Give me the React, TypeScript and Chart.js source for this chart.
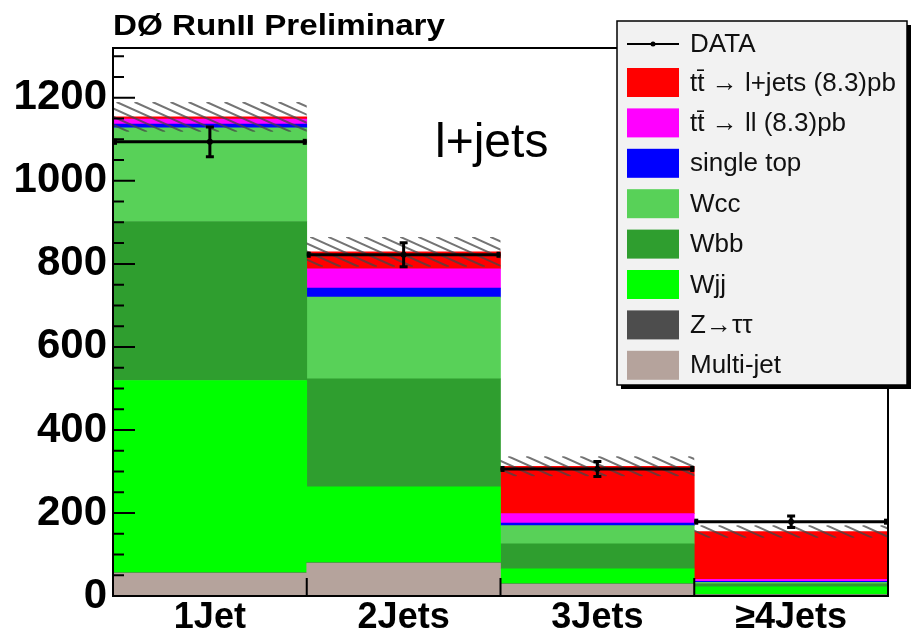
import React, { useEffect, useRef } from 'react';
import { Chart, registerables } from 'chart.js';

Chart.register(...registerables);

// ---------------- data ----------------
const categories = ['1Jet', '2Jets', '3Jets', '\u22654Jets'];
const multiJet = [55, 79, 29, 3];
const zTauTau = [1, 1, 0.5, 0.2];
const wjj = [463, 183, 36, 19];
const wbb = [383, 260, 60, 7];
const wcc = [226, 197, 44, 4];
const singleTop = [9, 22, 6, 2];
const ttDilepton = [12, 46, 23, 5];
const ttLeptonJets = [5, 41, 114, 115];
const dataCounts = [1094, 822, 306, 179];
const dataErrors = [36, 29, 18, 14];
const systUncertainty = [36, 36, 24, 15];
const yMajorTicks = [0, 200, 400, 600, 800, 1000, 1200];
const yMinorStep = 50;
const yMax = 1320;

const seriesLabels = [
  'Multi-jet',
  'Z\u2192\u03c4\u03c4',
  'Wjj',
  'Wbb',
  'Wcc',
  'single top',
  'tt\u0304 \u2192 ll (8.3)pb',
  'tt\u0304 \u2192 l+jets (8.3)pb',
];
const seriesColors = ['#b5a39c', '#4d4d4d', '#00ff00', '#2f9e2f', '#58d158', '#0000ff', '#ff00ff', '#ff0000'];
const seriesValues = [multiJet, zTauTau, wjj, wbb, wcc, singleTop, ttDilepton, ttLeptonJets];

const FONT = '"Liberation Sans", Arial, Helvetica, sans-serif';

const d0Plugin = {
  id: 'd0Overlay',
  afterDatasetsDraw(chart: any) {
    const { ctx, chartArea: ca, scales } = chart;
    const x = scales.x;
    const y = scales.y;
    const half = (x.getPixelForValue(1) - x.getPixelForValue(0)) / 2;
    const totals = categories.map((_, i) =>
      seriesValues.reduce((s, arr) => s + arr[i], 0)
    );

    // hatched uncertainty band
    for (let i = 0; i < categories.length; i++) {
      const xl = x.getPixelForValue(i) - half;
      const xr = x.getPixelForValue(i) + half;
      const yt = y.getPixelForValue(totals[i] + systUncertainty[i]);
      const yb = y.getPixelForValue(totals[i] - systUncertainty[i]);
      ctx.save();
      ctx.beginPath();
      ctx.rect(xl, yt, xr - xl, yb - yt);
      ctx.clip();
      ctx.strokeStyle = 'rgba(70,70,70,0.75)';
      ctx.lineWidth = 2;
      const slope = 0.45;
      const h = yb - yt;
      ctx.beginPath();
      for (let sx = xl - h / slope - 20; sx < xr + 20; sx += 18) {
        ctx.moveTo(sx, yt);
        ctx.lineTo(sx + h / slope, yb);
      }
      ctx.stroke();
      ctx.restore();
    }

    // data points
    ctx.save();
    ctx.strokeStyle = '#000';
    ctx.fillStyle = '#000';
    ctx.lineWidth = 3;
    for (let i = 0; i < categories.length; i++) {
      const xc = x.getPixelForValue(i);
      const xl = xc - half;
      const xr = xc + half;
      const yd = y.getPixelForValue(dataCounts[i]);
      const yh = y.getPixelForValue(dataCounts[i] + dataErrors[i]);
      const yl = y.getPixelForValue(dataCounts[i] - dataErrors[i]);
      ctx.beginPath();
      ctx.moveTo(xl, yd);
      ctx.lineTo(xr, yd);
      ctx.moveTo(xc, yh);
      ctx.lineTo(xc, yl);
      ctx.moveTo(xc - 4, yh);
      ctx.lineTo(xc + 4, yh);
      ctx.moveTo(xc - 4, yl);
      ctx.lineTo(xc + 4, yl);
      ctx.stroke();
      ctx.fillRect(xl, yd - 3, 4, 6);
      ctx.fillRect(xr - 4, yd - 3, 4, 6);
      ctx.beginPath();
      ctx.arc(xc, yd, 3, 0, Math.PI * 2);
      ctx.fill();
    }
    ctx.restore();

    // frame
    ctx.save();
    ctx.strokeStyle = '#000';
    ctx.lineWidth = 2;
    ctx.beginPath();
    ctx.rect(ca.left, ca.top, ca.right - ca.left, ca.bottom - ca.top);
    ctx.stroke();
    // y ticks (inside)
    ctx.beginPath();
    for (let v = 0; v <= yMax; v += yMinorStep) {
      const py = y.getPixelForValue(v);
      const len = yMajorTicks.includes(v) ? 22 : 11;
      ctx.moveTo(ca.left, py);
      ctx.lineTo(ca.left + len, py);
    }
    // x ticks at bin edges
    for (let i = 1; i < categories.length; i++) {
      const px = x.getPixelForValue(i) - half;
      ctx.moveTo(px, ca.bottom);
      ctx.lineTo(px, ca.bottom - 18);
    }
    ctx.stroke();
    ctx.restore();
  },
  afterDraw(chart: any) {
    const { ctx } = chart;
    ctx.save();
    // title (slightly wide face as in the original)
    ctx.fillStyle = '#000';
    ctx.font = `bold 29px ${FONT}`;
    ctx.textAlign = 'left';
    ctx.textBaseline = 'alphabetic';
    const title = 'D\u00d8 RunII Preliminary';
    const tw = ctx.measureText(title).width;
    ctx.save();
    ctx.translate(113, 35);
    ctx.scale(332 / tw, 1);
    ctx.fillText(title, 0, 0);
    ctx.restore();

    // channel label
    ctx.font = `48px ${FONT}`;
    ctx.fillText('l+jets', 435, 157);

    // legend box
    const bx = 617, by = 21, bw = 290, bh = 364;
    ctx.fillStyle = '#000';
    ctx.fillRect(bx + 4, by + 4, bw, bh);
    ctx.fillStyle = '#f2f2f2';
    ctx.fillRect(bx, by, bw, bh);
    ctx.strokeStyle = '#000';
    ctx.lineWidth = 1.5;
    ctx.strokeRect(bx, by, bw, bh);

    ctx.font = `26px ${FONT}`;
    ctx.textBaseline = 'middle';
    // DATA entry
    ctx.strokeStyle = '#000';
    ctx.lineWidth = 2;
    ctx.beginPath();
    ctx.moveTo(627, 44);
    ctx.lineTo(679, 44);
    ctx.stroke();
    ctx.fillStyle = '#000';
    ctx.beginPath();
    ctx.arc(653, 44, 2.5, 0, Math.PI * 2);
    ctx.fill();
    ctx.fillStyle = '#111';
    ctx.fillText('DATA', 690, 45);

    const order = [7, 6, 5, 4, 3, 2, 1, 0];
    order.forEach((k, r) => {
      const cy = 82.5 + r * 40.4;
      ctx.fillStyle = seriesColors[k];
      ctx.fillRect(627, cy - 14.5, 52, 29);
      ctx.fillStyle = '#111';
      ctx.fillText(seriesLabels[k], 690, cy + 1);
    });
    ctx.restore();
  },
};

export default function App() {
  const ref = useRef<HTMLCanvasElement>(null);
  useEffect(() => {
    if (!ref.current) return;
    const chart = new Chart(ref.current, {
      type: 'bar',
      data: {
        labels: categories,
        datasets: seriesValues.map((vals, k) => ({
          label: seriesLabels[k],
          data: vals,
          backgroundColor: seriesColors[k],
          borderWidth: 0,
          categoryPercentage: 1,
          barPercentage: 1,
        })),
      },
      options: {
        responsive: false,
        animation: false,
        devicePixelRatio: 1,
        layout: { padding: { top: 48, right: 25, left: 0, bottom: 0 } },
        plugins: {
          legend: { display: false },
          title: { display: false },
          tooltip: { enabled: false },
        },
        scales: {
          x: {
            stacked: true,
            grid: { display: false, drawTicks: false },
            border: { display: false },
            ticks: {
              color: '#000',
              font: { family: FONT, size: 36, weight: 'bold' },
              padding: 0,
              maxRotation: 0,
              autoSkip: false,
            },
            afterFit: (s: any) => {
              s.height = 40;
            },
          },
          y: {
            stacked: true,
            min: 0,
            max: yMax,
            grid: { display: false, drawTicks: false },
            border: { display: false },
            ticks: {
              stepSize: yMinorStep,
              autoSkip: false,
              color: '#000',
              padding: 6,
              font: { family: FONT, size: 42, weight: 'bold' },
              callback: (v: any) => (yMajorTicks.includes(Number(v)) ? String(v) : ''),
            },
            afterFit: (s: any) => {
              s.width = 113;
            },
          },
        },
      },
      plugins: [d0Plugin],
    });
    return () => chart.destroy();
  }, []);
  return (
    <div style={{ position: 'fixed', left: 0, top: 0, width: 913, height: 636, background: '#fff' }}>
      <canvas ref={ref} width={913} height={636} />
    </div>
  );
}
